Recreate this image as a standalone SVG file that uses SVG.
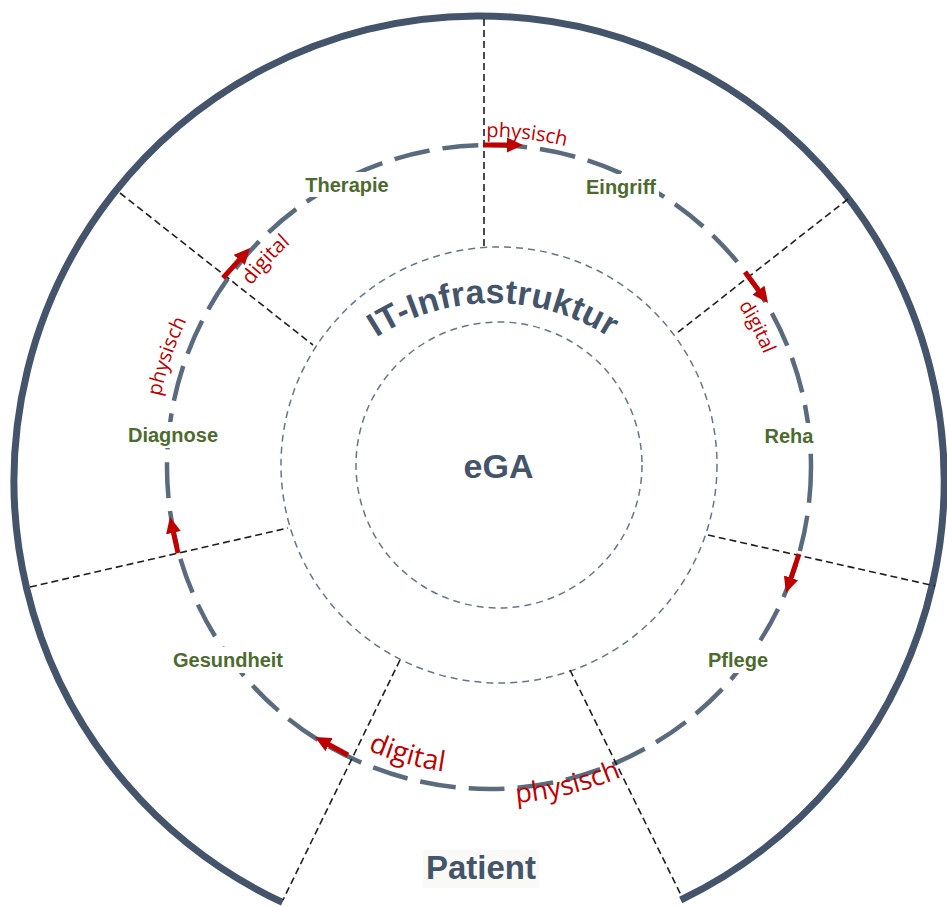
<svg xmlns="http://www.w3.org/2000/svg" width="947" height="907" viewBox="0 0 947 907">
<defs>
<style>
.outer{fill:none;stroke:#44546a;stroke-width:7}
.ring{fill:none;stroke:#66768a;stroke-width:1.5;stroke-dasharray:7 5}
.proc{fill:none;stroke:#5b6b7e;stroke-width:4.5;stroke-dasharray:36 13}
.div{fill:none;stroke:#1e1e1e;stroke-width:1.6;stroke-dasharray:7 4}
.box{fill:#ffffff}
.lbl{font-family:"Liberation Sans",Arial,sans-serif;font-weight:bold;font-size:20px;fill:#4e6b2f;text-anchor:middle}
.red{font-family:"Open Sans","Liberation Sans",sans-serif;fill:#c00000}
.arr{fill:none;stroke:#c00000;stroke-width:5;marker-end:url(#head)}
.big{font-family:"Liberation Sans",Arial,sans-serif;font-weight:bold;fill:#44546a;text-anchor:middle}
</style>
<marker id="head" markerUnits="userSpaceOnUse" markerWidth="16" markerHeight="15" viewBox="0 0 16 15" refX="2" refY="7.5" orient="auto">
<path d="M0,0 L16,7.5 L0,15 Z" fill="#c00000"/>
</marker>
<path id="pTop" d="M306.9,191.8 A330,330 0 0 1 728.4,239.8"/>
<path id="pUR" d="M602.2,192.4 A297,297 0 0 1 779.1,530.8"/>
<path id="pUL" d="M190.4,451.9 A299,299 0 0 1 452.0,170.3"/>
<path id="pL" d="M175.3,587.4 A336,336 0 0 1 316.0,179.0"/>
<path id="pBD" d="M234.3,640.1 A308,308 0 0 0 615.2,747.9"/>
<path id="pBP" d="M340.8,769.6 A337,337 0 0 0 761.3,665.6"/>
<path id="pIT" d="M291,444.5 A215,215 0 0 1 695,444.5"/>
</defs>
<rect x="0" y="0" width="947" height="907" fill="#ffffff"/>

<g id="rings">
<path class="outer" d="M282.5,902.4 A465,465 0 1 1 680.7,900"/>
<circle class="ring" cx="499" cy="465" r="218"/>
<circle class="ring" cx="499" cy="465" r="143"/>
<circle class="proc" cx="489" cy="467" r="322"/>
</g>

<g id="dividers">
<line class="div" x1="484" y1="19" x2="484" y2="248"/>
<line class="div" x1="120" y1="193" x2="313" y2="345"/>
<line class="div" x1="848" y1="199" x2="677" y2="333"/>
<line class="div" x1="30" y1="587" x2="288" y2="528"/>
<line class="div" x1="708" y1="535" x2="935" y2="586"/>
<line class="div" x1="400" y1="660" x2="283" y2="900"/>
<line class="div" x1="570" y1="670" x2="682" y2="897"/>
</g>

<g id="node-therapie"><rect class="box" x="302" y="172" width="90" height="25"/><text class="lbl" x="347" y="192">Therapie</text></g>
<g id="node-eingriff"><rect class="box" x="583" y="174" width="76" height="25"/><text class="lbl" x="621" y="194">Eingriff</text></g>
<g id="node-reha"><rect class="box" x="761" y="423" width="56" height="25"/><text class="lbl" x="789" y="443">Reha</text></g>
<g id="node-pflege"><rect class="box" x="704" y="647" width="68" height="26"/><text class="lbl" x="738" y="667">Pflege</text></g>
<g id="node-gesundheit"><rect class="box" x="170" y="647" width="117" height="26"/><text class="lbl" x="228" y="667">Gesundheit</text></g>
<g id="node-diagnose"><rect class="box" x="125" y="422" width="96" height="26"/><text class="lbl" x="173" y="442">Diagnose</text></g>

<g id="connectors">
<line class="arr" x1="483" y1="145" x2="509" y2="145"/>
<line class="arr" x1="745" y1="272" x2="759.7" y2="291.8"/>
<line class="arr" x1="799" y1="554" x2="790.4" y2="579.7"/>
<line class="arr" x1="348" y1="755" x2="327.3" y2="743.7"/>
<line class="arr" x1="178" y1="553" x2="173" y2="530.7"/>
<line class="arr" x1="223" y1="278" x2="240.6" y2="258.4"/>
</g>

<g id="flow-labels">
<text class="red" font-size="20"><textPath href="#pTop" startOffset="50%" text-anchor="middle">physisch</textPath></text>
<text class="red" font-size="19.5"><textPath href="#pUR" startOffset="50%" text-anchor="middle">digital</textPath></text>
<text class="red" font-size="20.5"><textPath href="#pUL" startOffset="50%" text-anchor="middle">digital</textPath></text>
<text class="red" font-size="20"><textPath href="#pL" startOffset="50%" text-anchor="middle">physisch</textPath></text>
<text class="red" font-size="28"><textPath href="#pBD" startOffset="50%" text-anchor="middle">digital</textPath></text>
<text class="red" font-size="27"><textPath href="#pBP" startOffset="50%" text-anchor="middle">physisch</textPath></text>
</g>

<g id="node-it">
<text class="big" font-size="34" letter-spacing="0.3"><textPath href="#pIT" startOffset="50%" text-anchor="middle">IT-Infrastruktur</textPath></text>
</g>
<g id="node-ega"><text class="big" x="498.5" y="478" font-size="34">eGA</text></g>
<g id="node-patient"><rect x="423" y="850" width="116" height="38" fill="#f9faf7"/><text class="big" x="481" y="879" font-size="33">Patient</text></g>
</svg>
